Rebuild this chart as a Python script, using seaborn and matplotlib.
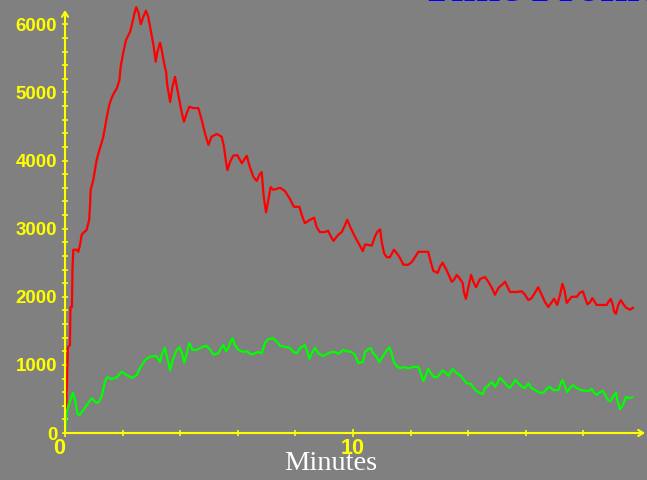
import matplotlib
matplotlib.use("Agg")
import matplotlib.pyplot as plt
from matplotlib.ticker import FixedLocator
import seaborn as sns
import pandas as pd

# ---- data (minutes, counts) ----
red_t = [0.00,0.03,0.07,0.10,0.17,0.19,0.24,0.26,0.29,0.41,0.46,0.52,0.58,0.64,0.75,0.84,0.87,0.89,0.98,1.04,
         1.10,1.19,1.27,1.33,1.39,1.45,1.54,1.62,1.70,1.80,1.89,1.93,2.02,2.12,2.26,2.32,2.40,2.47,2.55,2.63,
         2.72,2.81,2.89,3.01,3.07,3.15,3.20,3.30,3.36,3.44,3.51,3.55,3.65,3.73,3.82,3.90,3.97,4.05,4.13,4.23,
         4.32,4.45,4.63,4.75,4.86,4.98,5.09,5.27,5.44,5.52,5.58,5.64,5.73,5.84,5.98,6.14,6.31,6.42,6.54,6.66,
         6.75,6.83,6.89,6.94,6.98,7.06,7.14,7.23,7.47,7.64,7.79,7.95,8.14,8.22,8.33,8.51,8.65,8.74,8.85,9.03,
         9.14,9.20,9.32,9.49,9.61,9.72,9.80,9.92,10.07,10.24,10.34,10.42,10.53,10.65,10.76,10.84,10.94,11.00,11.08,11.17,
         11.28,11.42,11.52,11.63,11.75,11.92,12.04,12.15,12.27,12.44,12.61,12.70,12.79,12.94,13.02,13.11,13.25,13.43,13.51,13.60,
         13.69,13.81,13.85,13.92,14.00,14.10,14.18,14.27,14.41,14.58,14.70,14.82,14.93,15.05,15.16,15.28,15.45,15.68,15.86,15.97,
         16.09,16.20,16.32,16.43,16.55,16.67,16.78,16.90,16.98,17.09,17.19,17.27,17.34,17.42,17.50,17.59,17.77,17.88,17.98,18.06,
         18.14,18.23,18.31,18.40,18.46,18.81,18.86,18.95,19.02,19.07,19.13,19.21,19.30,19.39,19.48,19.62,19.73]
red_v = [120,220,750,1260,1290,1850,1850,2420,2690,2690,2660,2760,2910,2940,2980,3130,3350,3570,3710,3860,
         4010,4150,4260,4350,4490,4640,4820,4920,4990,5060,5180,5370,5580,5770,5890,5990,6140,6250,6170,6000,
         6110,6200,6110,5840,5700,5450,5580,5730,5620,5430,5300,5110,4860,5080,5230,5040,4890,4710,4570,4700,
         4790,4770,4770,4590,4400,4230,4350,4390,4350,4200,4010,3860,3980,4070,4080,3960,4070,3900,3760,3700,
         3790,3830,3520,3350,3240,3420,3610,3570,3600,3550,3450,3320,3320,3200,3080,3130,3160,3020,2950,2950,
         2970,2910,2820,2910,2950,3050,3130,3010,2880,2750,2670,2770,2760,2750,2880,2950,2990,2800,2640,2580,
         2580,2690,2640,2570,2470,2470,2510,2580,2660,2660,2660,2510,2380,2350,2440,2500,2390,2220,2250,2320,
         2280,2200,2070,1970,2130,2320,2220,2140,2260,2290,2220,2130,2030,2130,2170,2220,2070,2070,2080,2030,
         1950,1980,2060,2140,2030,1920,1850,1920,1970,1880,2030,2190,2100,1910,1950,2000,2000,2060,2080,1980,
         1890,1920,1980,1920,1880,1880,1920,1970,1880,1780,1750,1880,1950,1890,1840,1810,1840]

green_t = [0.00,0.06,0.17,0.27,0.35,0.43,0.50,0.64,0.81,0.93,1.04,1.14,1.27,1.39,1.47,1.62,1.80,1.97,2.14,2.32,
           2.49,2.60,2.78,2.95,3.18,3.30,3.36,3.47,3.55,3.65,3.74,3.88,3.97,4.06,4.14,4.23,4.32,4.43,4.57,4.75,
           4.90,5.03,5.15,5.32,5.44,5.50,5.59,5.67,5.75,5.82,5.90,6.02,6.19,6.31,6.48,6.60,6.71,6.83,6.94,7.06,
           7.23,7.35,7.47,7.70,7.81,7.93,8.05,8.16,8.33,8.43,8.48,8.57,8.68,8.80,8.97,9.09,9.26,9.38,9.49,9.66,
           9.78,9.95,10.07,10.18,10.34,10.42,10.53,10.61,10.70,10.82,10.91,11.03,11.15,11.26,11.34,11.42,11.54,11.66,11.75,11.92,
           12.09,12.27,12.35,12.44,12.53,12.61,12.70,12.81,12.93,13.02,13.11,13.23,13.31,13.46,13.60,13.74,13.85,13.95,14.09,14.24,
           14.39,14.51,14.58,14.70,14.82,14.93,15.01,15.10,15.22,15.34,15.45,15.55,15.63,15.74,15.86,15.97,16.09,16.20,16.32,16.49,
           16.61,16.73,16.82,16.95,17.13,17.21,17.28,17.36,17.44,17.53,17.63,17.77,17.91,18.06,18.20,18.29,18.37,18.46,18.58,18.67,
           18.75,18.86,18.95,19.02,19.13,19.18,19.27,19.37,19.48,19.59,19.70]
green_v = [0,310,460,590,480,290,260,340,440,510,460,440,530,760,820,790,820,900,850,810,
           850,950,1070,1120,1130,1040,1150,1250,1100,920,1070,1220,1260,1170,1030,1170,1320,1220,1220,1260,
           1280,1230,1150,1170,1260,1290,1200,1250,1340,1390,1290,1220,1190,1200,1150,1170,1190,1170,1320,1380,
           1390,1340,1280,1260,1250,1190,1170,1250,1290,1170,1090,1170,1250,1170,1130,1160,1190,1190,1160,1220,
           1200,1190,1150,1030,1040,1190,1230,1250,1170,1120,1040,1120,1200,1260,1170,1040,970,950,970,950,
           970,970,880,760,850,940,880,820,820,870,920,880,840,940,880,840,780,730,720,630,
           590,570,660,700,750,680,730,810,760,700,660,720,780,730,680,660,730,660,630,590,
           590,650,680,630,630,730,780,680,600,660,700,660,630,620,620,650,590,560,600,620,
           560,480,470,530,590,480,350,410,530,510,530]

y_ticks = [0, 1000, 2000, 3000, 4000, 5000, 6000]
x_ticks = [0, 10]
x_label = "Minutes"
title = "Time Profile"

red_df = pd.DataFrame({"Minutes": red_t, "Counts": red_v})
green_df = pd.DataFrame({"Minutes": green_t, "Counts": green_v})

# ---- style ----
BG = "#808080"
YEL = "#ffff00"
sns.set_style("dark", {"axes.facecolor": BG, "figure.facecolor": BG})

W, H = 647, 480
fig = plt.figure(figsize=(W / 100, H / 100), dpi=100)
fig.patch.set_facecolor(BG)

x0_px, y0_px = 65, 433        # data origin in pixels
px_per_min = 28.8
px_per_unit = 1 / 14.68
ax_left, ax_top = x0_px, 5
ax_right = W
ax = fig.add_axes([ax_left / W, (H - y0_px) / H, (ax_right - ax_left) / W, (y0_px - ax_top) / H])
ax.set_facecolor(BG)
ax.set_xlim(0, (ax_right - ax_left) / px_per_min)
ax.set_ylim(0, (y0_px - ax_top) / px_per_unit)

sns.lineplot(data=red_df, x="Minutes", y="Counts", color="#ff0000", lw=1.6,
             estimator=None, sort=False, ax=ax, clip_on=False, zorder=3)
sns.lineplot(data=green_df, x="Minutes", y="Counts", color="#00ff00", lw=1.6,
             estimator=None, sort=False, ax=ax, clip_on=False, zorder=3)

for s in ax.spines.values():
    s.set_visible(False)
ax.grid(False)
ax.set_xlabel("")
ax.set_ylabel("")

# axis lines with open arrow heads
x_end = (645 - x0_px) / px_per_min
y_end = (y0_px - 10) / px_per_unit
arrow = dict(arrowstyle="->,head_length=0.35,head_width=0.22", color=YEL, lw=1.5,
             shrinkA=0, shrinkB=0)
ax.annotate("", xy=(x_end, 0), xytext=(0, 0), arrowprops=arrow, annotation_clip=False, zorder=4)
ax.annotate("", xy=(0, y_end), xytext=(0, 0), arrowprops=arrow, annotation_clip=False, zorder=4)

# ticks
ax.yaxis.set_major_locator(FixedLocator(y_ticks))
ax.yaxis.set_minor_locator(FixedLocator([v for v in range(200, 6001, 200) if v % 1000]))
ax.set_yticklabels([str(v) for v in y_ticks])
ax.xaxis.set_major_locator(FixedLocator(x_ticks))
ax.xaxis.set_minor_locator(FixedLocator([2, 4, 6, 8, 12, 14, 16, 18]))
ax.set_xticklabels([str(v) for v in x_ticks])

ax.tick_params(axis="y", which="both", direction="inout", length=4, width=1.2, color=YEL,
               left=True, labelcolor=YEL, pad=3.5)
ax.tick_params(axis="x", which="major", direction="inout", length=5.5, width=1.2, color=YEL,
               bottom=True, labelcolor=YEL, pad=0.5)
ax.tick_params(axis="x", which="minor", direction="inout", length=4, width=1.2, color=YEL, bottom=True)
for lab in ax.get_yticklabels():
    lab.set_fontfamily(["Liberation Sans", "DejaVu Sans"])
    lab.set_fontweight("bold")
    lab.set_fontsize(13.5)
xlabs = ax.get_xticklabels()
for lab in xlabs:
    lab.set_fontfamily(["Liberation Sans Narrow", "Liberation Sans", "DejaVu Sans"])
    lab.set_fontweight("bold")
    lab.set_fontsize(15.5)
xlabs[0].set_horizontalalignment("right")

fig.text(331 / W, 1 - 464 / H, x_label, color="white", fontsize=20.5,
         family=["Liberation Serif", "DejaVu Serif"], ha="center", va="center")
fig.text(422 / W, 1 - 1.3 / H, title, color="#0000ff", fontsize=32, fontweight="bold",
         family=["Liberation Serif", "DejaVu Serif"], ha="left", va="baseline")

fig.savefig("out.png", dpi=100, facecolor=BG)
